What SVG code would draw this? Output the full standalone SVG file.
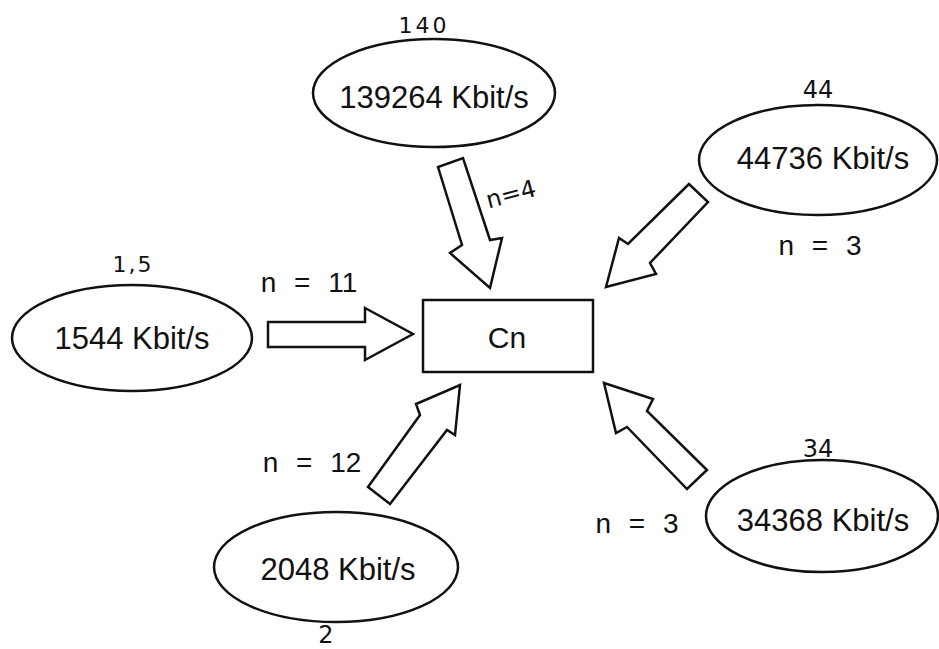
<svg xmlns="http://www.w3.org/2000/svg" width="939" height="649" viewBox="0 0 939 649">
<style>
  .shape { fill: #ffffff; stroke: #111111; stroke-width: 2.5; }
  .arrow { fill: #ffffff; stroke: #111111; stroke-width: 2.5; stroke-linejoin: miter; }
  .lbl { font-family: "Liberation Sans", Arial, sans-serif; font-size: 31px; fill: #111111; text-anchor: middle; }
  .n { font-family: "Liberation Sans", Arial, sans-serif; font-size: 28px; fill: #111111; text-anchor: middle; word-spacing: 10px; }
  .hand { font-family: "DejaVu Sans", "Liberation Sans", sans-serif; font-size: 22px; fill: #111111; text-anchor: middle; }
</style>
<rect x="0" y="0" width="939" height="649" fill="#ffffff"/>

<g id="connectors">
  <polygon id="arrow-140" class="arrow" points="438,167 462,245 450,253 490,288 502,238 490,240 463,158"/>
  <polygon id="arrow-44" class="arrow" points="689,184 628,244 619,238 606,287 656,274 650,263 708,202"/>
  <polygon id="arrow-1544" class="arrow" points="268,322 365,322 365,308 413,334 365,360 365,347 268,347"/>
  <polygon id="arrow-2048" class="arrow" points="368,487 420,415 416,404 460,385 455,435 447,430 390,504"/>
  <polygon id="arrow-34" class="arrow" points="604,383 653,399 647,411 707,470 687,489 627,427 616,433"/>
  <text class="hand" transform="translate(513,202) rotate(-15)" style="font-size:24px">n=4</text>
  <text class="n" x="820" y="255">n = 3</text>
  <text class="n" x="309" y="292">n = 11</text>
  <text class="n" x="312" y="472">n = 12</text>
  <text class="n" x="637" y="533">n = 3</text>
</g>

<g id="node-cn">
  <rect class="shape" x="423" y="300" width="170" height="72"/>
  <text class="lbl" x="507" y="348" style="font-size:30px">Cn</text>
</g>

<g id="node-139264">
  <ellipse class="shape" cx="434" cy="93" rx="121" ry="54"/>
  <text class="lbl" x="434" y="108">139264 Kbit/s</text>
  <text class="hand" x="424" y="33" style="letter-spacing:3px">140</text>
</g>

<g id="node-44736">
  <ellipse class="shape" cx="818" cy="160" rx="119" ry="55"/>
  <text class="lbl" x="823" y="169">44736 Kbit/s</text>
  <text class="hand" x="818" y="98" style="font-size:24px">44</text>
</g>

<g id="node-1544">
  <ellipse class="shape" cx="132" cy="338" rx="120" ry="53"/>
  <text class="lbl" x="132" y="349">1544 Kbit/s</text>
  <text class="hand" x="133" y="272" style="letter-spacing:2px">1,5</text>
</g>

<g id="node-2048">
  <ellipse class="shape" cx="336" cy="567" rx="122" ry="55"/>
  <text class="lbl" x="338" y="580">2048 Kbit/s</text>
  <text class="hand" x="326" y="643" style="font-size:24px">2</text>
</g>

<g id="node-34368">
  <ellipse class="shape" cx="822" cy="516" rx="116" ry="56"/>
  <text class="lbl" x="823" y="531">34368 Kbit/s</text>
  <text class="hand" x="818" y="457" style="font-size:24px">34</text>
</g>
</svg>
